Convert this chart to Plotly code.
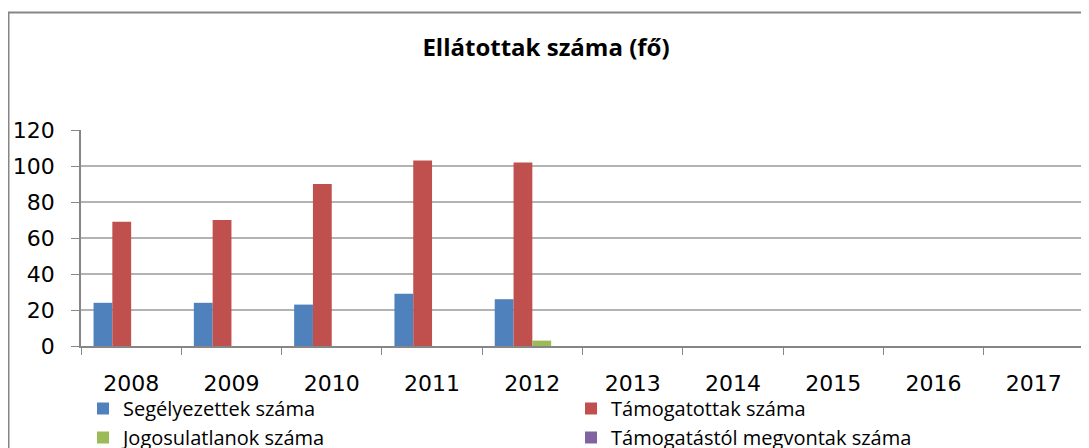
import plotly.graph_objects as go

# Év -> ellátottak száma
years = ["2008", "2009", "2010", "2011", "2012", "2013", "2014", "2015", "2016", "2017"]
segelyezettek = [24, 24, 23, 29, 26, None, None, None, None, None]
tamogatottak = [69, 70, 90, 103, 102, None, None, None, None, None]
jogosulatlanok = [None, None, None, None, 3, None, None, None, None, None]
megvontak = [None, None, None, None, None, None, None, None, None, None]

series_names = [
    "Segélyezettek száma",
    "Támogatottak száma",
    "Jogosulatlanok száma",
    "Támogatástól megvontak száma",
]
colors = ["#4F81BD", "#C0504D", "#9BBB59", "#8064A2"]

# the page body adds 8px around the figure
W, H = 1081, 440
left, right, top, bottom = 73, 5, 122, 102
plot_w = W - left - right
plot_h = H - top - bottom

fig = go.Figure()
for name, vals, col in zip(series_names,
                           [segelyezettek, tamogatottak, jogosulatlanok, megvontak],
                           colors):
    fig.add_trace(go.Bar(x=years, y=vals, name=name, marker_color=col,
                         marker_line_width=0))

grid = "#b3b3b3"
axis = "#868686"

fig.update_layout(
    width=W, height=H,
    margin=dict(l=left, r=right, t=top, b=bottom, autoexpand=False),
    paper_bgcolor="white", plot_bgcolor="white",
    barmode="group", bargap=0.25, bargroupgap=0,
    title=dict(text="<b>Ellátottak száma (fő)</b>", x=538 / W, xanchor="center",
               y=1 - 40 / H, yanchor="middle", xref="container", yref="container",
               font=dict(family="Open Sans", size=24, color="#000000")),
    font=dict(family="DejaVu Sans", color="#000000"),
    showlegend=True,
    legend=dict(orientation="h", x=(75 - left) / plot_w, xanchor="left",
                y=(plot_h + top - 381) / plot_h, yanchor="top",
                entrywidth=443, entrywidthmode="pixels",
                bgcolor="rgba(0,0,0,0)",
                traceorder="normal", itemclick=False,
                font=dict(family="Open Sans", size=20, color="#000000")),
)

fig.update_yaxes(range=[0, 120], dtick=20, showgrid=True, gridcolor=grid, gridwidth=1.5,
                 showline=True, linecolor=axis, linewidth=1.5,
                 ticks="outside", ticklen=8, tickcolor=axis,
                 ticklabelstandoff=12, zeroline=False, automargin=False,
                 tickfont=dict(family="DejaVu Sans", size=22, color="#000000"))
fig.update_xaxes(type="category", showline=True, linecolor=axis, linewidth=1.5,
                 ticks="outside", ticklen=7, tickcolor=axis, tickson="boundaries",
                 ticklabelstandoff=17, showgrid=False, automargin=False,
                 tickfont=dict(family="DejaVu Sans", size=22, color="#000000"))

# keret a diagram körül
fig.add_shape(type="rect", xref="paper", yref="paper", layer="below",
              x0=(0.5 - left) / plot_w, x1=(W + 20 - left) / plot_w,
              y0=-(bottom + 20) / plot_h, y1=1 + (top - 4.5) / plot_h,
              line=dict(color=axis, width=2), fillcolor="rgba(0,0,0,0)")

fig.write_html("out.html")
